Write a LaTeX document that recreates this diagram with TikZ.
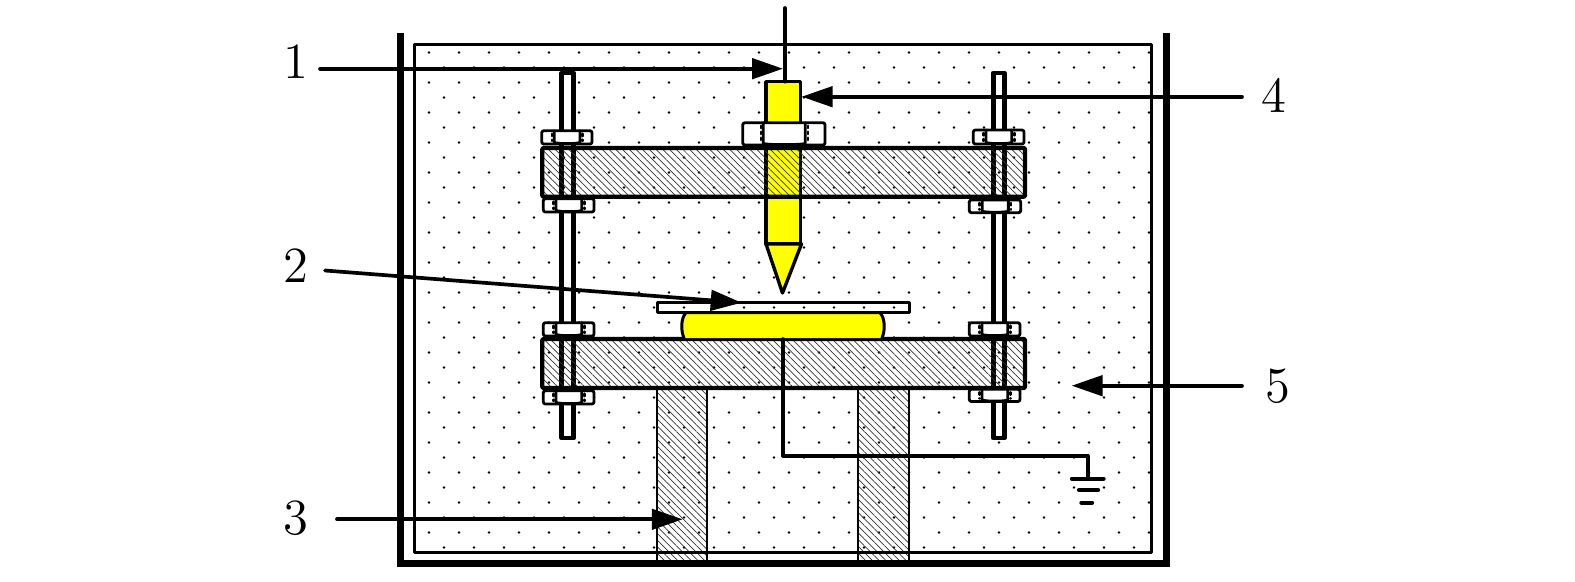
\documentclass[tikz,border=0pt]{standalone}
\usepackage{xcolor}
\usetikzlibrary{arrows.meta,patterns.meta}
\definecolor{needleyellow}{RGB}{255,255,0}
\tikzset{
    hatched/.style={pattern={Lines[angle=-45,distance=1.35pt,line width=.2pt]},pattern color=black!80},
    platebar/.style={hatched,draw=black,line width=1.2pt,rounded corners=.3pt},
    legbar/.style={hatched},
    legline/.style={line width=.7pt},
    rodline/.style={line width=1.4pt},
    nutline/.style={line width=.8pt},
    wireline/.style={line width=1.05pt},
    pointer/.style={->,line width=1.05pt},
    numlabel/.style={font=\Large,inner sep=0pt},
}
\newcommand{\hexnut}[4]{%
    \pgfmathsetmacro{\xa}{#1+.25*(#2-#1)}
    \pgfmathsetmacro{\xb}{#1+.76*(#2-#1)}
    \fill [white,rounded corners=.6pt] (#1,#3) rectangle (#2,#4);
    \draw [nutline,rounded corners=.6pt] (#1,#3) rectangle (#2,#4);
    \draw [nutline] (\xa,#3)-- (\xa,#4-1.5) .. controls (\xa+4,#4) and (\xb-4,#4) .. (\xb,#4-1.5)-- (\xb,#3);
    \draw [line width=.7pt,dash pattern=on .7pt off 1pt] (\xa-2.5,#3+3)-- (\xa-2.5,#4-3);
    \draw [line width=.7pt,dash pattern=on .7pt off 1pt] (\xb+2.5,#3+3)-- (\xb+2.5,#4-3);
}
\begin{document}
\begin{tikzpicture}[line cap=round,line join=round,>={Triangle[length=8.8pt,width=5.8pt]},x=0.01cm,y=-0.01cm]
    \useasboundingbox (0,0) rectangle (1575,581);
    % dots of the liquid
    \foreach \row in {0,2,...,32}{
        \foreach \col in {0,...,24}{
            \fill (429+30*\col,52.5+15*\row) circle (1.35);
        }
    }
    \foreach \row in {1,3,...,33}{
        \foreach \col in {0,...,23}{
            \fill (444+30*\col,52.5+15*\row) circle (1.35);
        }
    }
    % legs
    \fill [legbar] (657,388) rectangle (707,560);
    \fill [legbar] (858,388) rectangle (909,560);
    \draw [legline] (657,388)-- (657,560);
    \draw [legline] (707,388)-- (707,560);
    \draw [legline] (858,388)-- (858,560);
    \draw [legline] (909,388)-- (909,560);
    % vessel
    \draw [line width=.9pt] (414.7,44.7) rectangle (1151.7,552.3);
    \draw [line width=2pt,line cap=butt,line join=miter] (400.5,33)-- (400.5,563.3)-- (1166.7,563.3)-- (1166.7,33);
    % rods
    \fill [white] (561.7,73) rectangle (573.7,148);
    \fill [white] (561.7,197) rectangle (573.7,339);
    \fill [white] (561.7,388) rectangle (573.7,438);
    \fill [white] (993.3,73) rectangle (1004.3,148);
    \fill [white] (993.3,197) rectangle (1004.3,339);
    \fill [white] (993.3,388) rectangle (1004.3,438);
    \draw [rodline] (561.7,438)-- (561.7,73)-- (573.7,73)-- (573.7,438)-- cycle;
    \draw [rodline] (993.3,438)-- (993.3,73)-- (1004.3,73)-- (1004.3,438)-- cycle;
    % needle
    \draw [fill=needleyellow,line width=.95pt] (766,81.7) rectangle (800.7,244);
    \draw [fill=needleyellow,line width=.95pt] (766,244)-- (801.5,244)-- (782.5,293)-- cycle;
    % plates
    \draw [platebar] (542.3,148) rectangle (1025,196.7);
    \draw [platebar] (542.3,339) rectangle (1025,388);
    % nuts
    \hexnut{541.7}{592}{130.7}{144}
    \hexnut{543.3}{594}{198.7}{212}
    \hexnut{543.3}{594}{322.7}{336}
    \hexnut{543.3}{594}{390.7}{404}
    \hexnut{973.3}{1024}{130}{144}
    \hexnut{969.3}{1020.7}{200}{212.7}
    \hexnut{969.3}{1020}{322.7}{336}
    \hexnut{969.3}{1020}{389.3}{401.5}
    \hexnut{742.7}{825}{122.7}{145}
    % drop and slide
    \draw [fill=needleyellow,line width=.85pt] (684,338)  .. controls (680.5,330) and (681,318) .. (686,312.7)-- (880,312.7) .. controls (885,318) and (885.5,330) .. (882,338);
    \draw [line width=.85pt] (657.3,302.7) rectangle (909.3,312);
    % wires
    \draw [wireline] (784.8,8)-- (784.8,81.7);
    \draw [wireline] (783,339)-- (783,455.7)-- (1087.7,455.7)-- (1087.7,478.5);
    \draw [line width=1.25pt] (1072,478.7)-- (1103.5,478.7);
    \draw [line width=1.25pt] (1079,490)-- (1098,490);
    \draw [line width=1.25pt] (1081.5,502.7)-- (1092,502.7);
    % labels
    \node [numlabel] (lblone) at (296,62) {1};
    \node [numlabel] (lbltwo) at (296,266) {2};
    \node [numlabel] (lblthree) at (296,518) {3};
    \node [numlabel] (lblfour) at (1273.5,95) {4};
    \node [numlabel] (lblfive) at (1278,386) {5};
    \coordinate (tailone) at (320,68.7);
    \coordinate (tipone) at (783,68.7);
    \coordinate (tailtwo) at (325,270.5);
    \coordinate (tiptwo) at (741.7,302.7);
    \coordinate (tailthree) at (337,519.3);
    \coordinate (tipthree) at (682.7,519.3);
    \coordinate (tailfour) at (1242,96.7);
    \coordinate (tipfour) at (801.7,96.7);
    \coordinate (tailfive) at (1242,385.7);
    \coordinate (tipfive) at (1071.7,385.7);
    \draw [pointer] (tailone)-- (tipone);
    \draw [pointer] (tailtwo)-- (tiptwo);
    \draw [pointer] (tailthree)-- (tipthree);
    \draw [pointer] (tailfour)-- (tipfour);
    \draw [pointer] (tailfive)-- (tipfive);
\end{tikzpicture}
\end{document}
